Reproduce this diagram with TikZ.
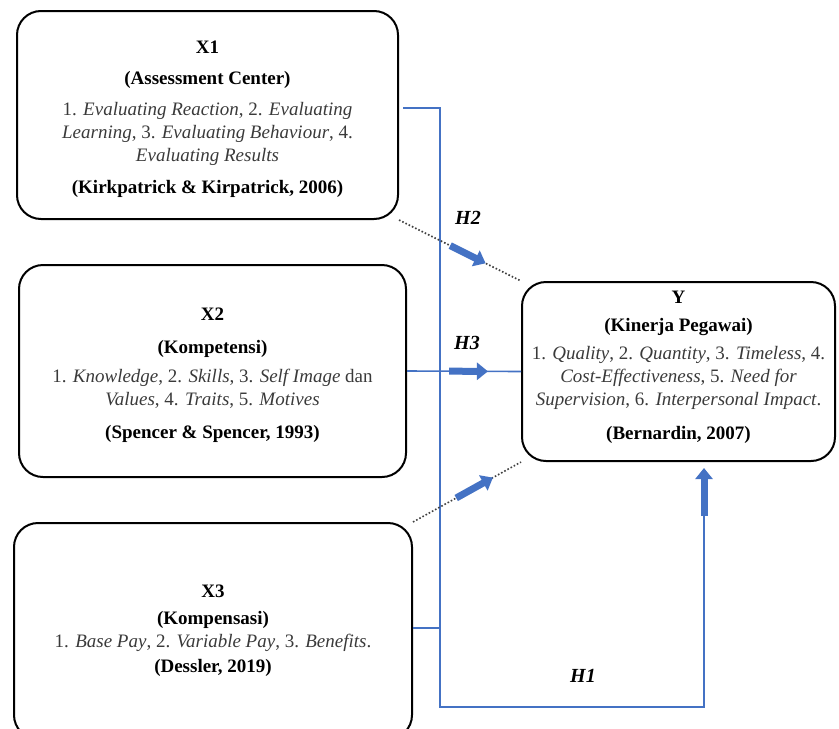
\documentclass[tikz,border=0pt]{standalone}
\usepackage{fontspec}
\setmainfont{Liberation Serif}
\usetikzlibrary{arrows.meta}
\definecolor{hblue}{HTML}{4472C4}
\definecolor{itemgray}{HTML}{3A3A3A}
\newcommand{\head}[1]{\textcolor{black}{\textbf{#1}}}

\begin{document}
\begin{tikzpicture}[x=0.5pt,y=-0.5pt,
font=\fontsize{9.5}{11.5}\selectfont]
\tikzstyle{box}=[draw,line width=1pt,rounded corners=12pt,align=center,inner sep=0pt,text=itemgray]
\tikzstyle{link}=[draw=hblue,line width=1pt]
\tikzstyle{fat}=[draw=hblue,fill=hblue,line width=3.5pt,-{Triangle[length=5.5pt,width=8.5pt]}]
\tikzstyle{hint}=[draw=black!75,densely dotted,line width=0.8pt]
\tikzstyle{hyp}=[font=\fontsize{10}{12}\selectfont\bfseries\itshape]

\useasboundingbox (0,0) rectangle (839,728);

\node (X1) [box,minimum width=190.5pt,minimum height=104pt] at (207.5,115)
{\rule{0pt}{11pt}\head{X1}\\[4pt]
 \head{(Assessment Center)}\\[4pt]
 1. \textit{Evaluating Reaction}, 2. \textit{Evaluating}\\
 \textit{Learning}, 3. \textit{Evaluating Behaviour}, 4.\\
 \textit{Evaluating Results}\\[4.5pt]
 \head{(Kirkpatrick \& Kirpatrick, 2006)}};

\node (X2) [box,minimum width=193.5pt,minimum height=106pt] at (212.5,371)
{\rule{0pt}{11pt}\head{X2}\\[5pt]
 \head{(Kompetensi)}\\[3pt]
 1. \textit{Knowledge}, 2. \textit{Skills}, 3. \textit{Self Image} dan\\
 \textit{Values}, 4. \textit{Traits}, 5. \textit{Motives}\\[5pt]
 \head{(Spencer \& Spencer, 1993)}};

\node (X3) [box,minimum width=199pt,minimum height=108pt] at (213,631)
{\head{X3}\\[2pt]
 \head{(Kompensasi)}\\[0pt]
 1. \textit{Base Pay}, 2. \textit{Variable Pay}, 3. \textit{Benefits}.\\[1pt]
 \head{(Dessler, 2019)}};

\node (Y) [box,minimum width=156.5pt,minimum height=89.5pt] at (678.5,371.5)
{\head{Y}\\[2.5pt]
 \head{(Kinerja Pegawai)}\\[2.5pt]
 1. \textit{Quality}, 2. \textit{Quantity}, 3. \textit{Timeless}, 4.\\
 \textit{Cost-Effectiveness}, 5. \textit{Need for}\\
 \textit{Supervision}, 6. \textit{Interpersonal Impact}.\\[5.5pt]
 \head{(Bernardin, 2007)}\rule[-6pt]{0pt}{0pt}};

% H1 path
\coordinate (a1) at (403,108);
\coordinate (t1) at (440,108);
\coordinate (t3) at (440,628);
\coordinate (b1) at (440,707);
\coordinate (b2) at (704,707);
\coordinate (b3) at (704,516);
\coordinate (b4) at (704,468);
\draw[link] (a1) -- (t1) -- (b1) -- (b2) -- (b3);
\draw[link] (X3.east |- t3) -- (t3);
\draw[fat] (b3) -- (b4);

% H2 and H3
\draw[hint] (X1.south east) -- (Y.north west)
  coordinate[pos=0.42] (h2s) coordinate[pos=0.71] (h2e);
\draw[fat] (h2s) -- (h2e);
\draw[link,line width=0.8pt] (X2.east) -- (Y.west)
  coordinate[pos=0.37] (h3s) coordinate[pos=0.71] (h3e);
\draw[fat] (h3s) -- (h3e);
\draw[hint] (X3.north east) -- (Y.south west)
  coordinate[pos=0.40] (h4s) coordinate[pos=0.74] (h4e);
\draw[fat] (h4s) -- (h4e);

\node (H2) [hyp] at (468,218) {H2};
\node (H3) [hyp] at (467,343) {H3};
\node (H1) [hyp] at (583,676) {H1};
\end{tikzpicture}
\end{document}
